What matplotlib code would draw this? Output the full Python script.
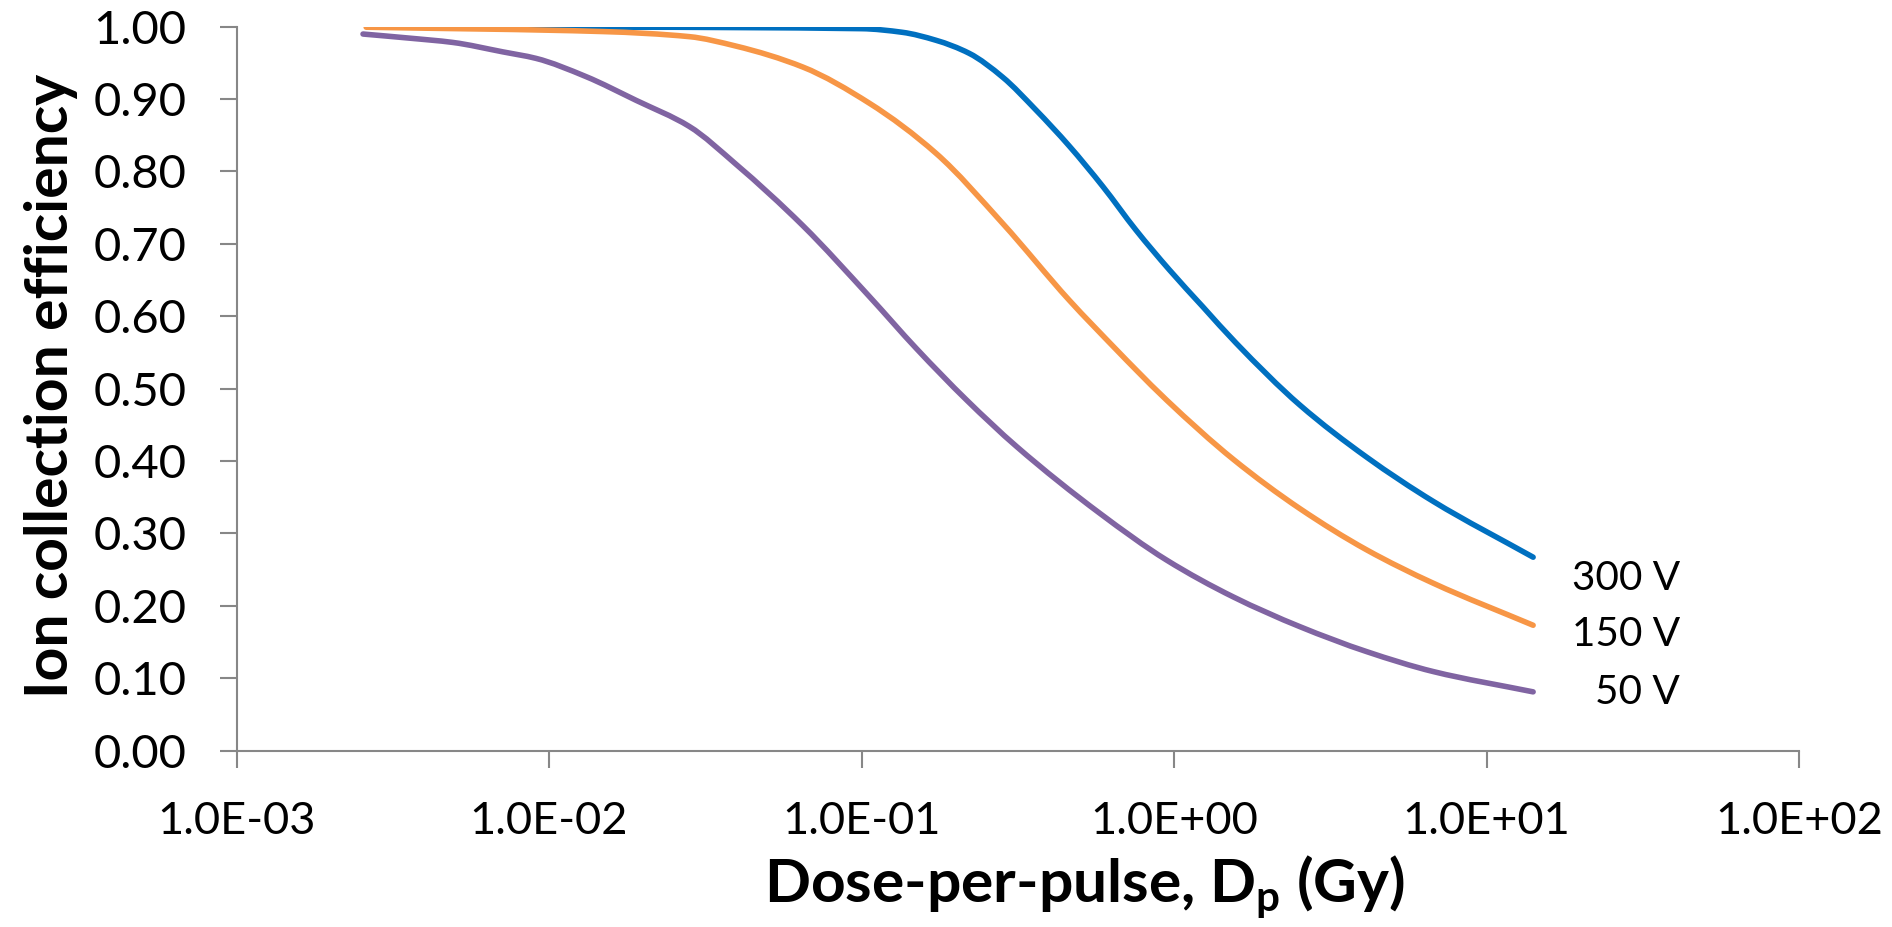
import numpy as np
import matplotlib
matplotlib.use("Agg")
import matplotlib.pyplot as plt
from matplotlib.path import Path
from matplotlib.patches import PathPatch
from matplotlib.ticker import FixedLocator, NullLocator

# ---- data (dose in Gy, efficiency) ----
dose_300 = [0.00266, 0.016, 0.10, 0.135, 0.173, 0.221, 0.283, 0.361, 0.462, 0.592,
            0.755, 0.966, 1.236, 1.578, 2.53, 4.14, 6.76, 14.1]
eff_300 = [0.999, 0.999, 0.997, 0.992, 0.981, 0.963, 0.930, 0.885, 0.835, 0.779,
           0.719, 0.664, 0.613, 0.563, 0.477, 0.405, 0.344, 0.267]

dose_150 = [0.0026, 0.0149, 0.0281, 0.0396, 0.0649, 0.106, 0.173, 0.283, 0.462,
            0.656, 0.755, 0.947, 1.55, 2.53, 4.14, 6.76, 14.1]
eff_150 = [0.999, 0.993, 0.986, 0.973, 0.944, 0.894, 0.825, 0.728, 0.622,
           0.553, 0.526, 0.484, 0.402, 0.334, 0.277, 0.231, 0.173]

dose_50 = [0.00254, 0.00356, 0.00492, 0.00711, 0.00908, 0.0131, 0.0190, 0.0281,
           0.0396, 0.0649, 0.106, 0.150, 0.217, 0.314, 0.579, 0.947, 1.55, 2.53,
           4.14, 6.76, 14.1]
eff_50 = [0.9896, 0.984, 0.978, 0.965, 0.956, 0.931, 0.898, 0.862, 0.810, 0.725,
          0.627, 0.555, 0.484, 0.4196, 0.3276, 0.263, 0.212, 0.171, 0.1365, 0.109,
          0.081]

series_labels = ["300 V", "150 V", "50 V"]
x_ticks = [1e-3, 1e-2, 1e-1, 1e0, 1e1, 1e2]
x_tick_labels = ["1.0E-03", "1.0E-02", "1.0E-01", "1.0E+00", "1.0E+01", "1.0E+02"]
y_ticks = [0.0, 0.1, 0.2, 0.3, 0.4, 0.5, 0.6, 0.7, 0.8, 0.9, 1.0]
y_tick_labels = ["%.2f" % v for v in y_ticks]
x_title = r"Dose-per-pulse, D$_\mathregular{p}$ (Gy)"
y_title = "Ion collection efficiency"

# ---- style ----
FONT = ["Lato", "DejaVu Sans"]
plt.rcParams["font.family"] = FONT
plt.rcParams["mathtext.default"] = "regular"
W, H = 1892, 927
PX = 72 / 100.0  # points per pixel at dpi 100
fig = plt.figure(figsize=(W / 100, H / 100), dpi=100)
ax = fig.add_axes([236.5 / W, 1 - 750.5 / H, (1799 - 236.5) / W, (750.5 - 26.5) / H])


def smooth_path(xs, ys):
    """Excel-like smoothed line: monotone cubic Hermite in (log10 x, y) drawn as Bezier."""
    lx = np.log10(np.asarray(xs, float))
    y = np.asarray(ys, float)
    h = np.diff(lx)
    d = np.diff(y) / h
    m = np.zeros_like(y)
    m[0], m[-1] = d[0], d[-1]
    for i in range(1, len(y) - 1):
        if d[i - 1] * d[i] <= 0:
            m[i] = 0.0
        else:
            w1 = 2 * h[i] + h[i - 1]
            w2 = h[i] + 2 * h[i - 1]
            m[i] = (w1 + w2) / (w1 / d[i - 1] + w2 / d[i])
    verts = [(10 ** lx[0], y[0])]
    codes = [Path.MOVETO]
    for i in range(len(h)):
        c1 = (10 ** (lx[i] + h[i] / 3), y[i] + m[i] * h[i] / 3)
        c2 = (10 ** (lx[i + 1] - h[i] / 3), y[i + 1] - m[i + 1] * h[i] / 3)
        verts += [c1, c2, (10 ** lx[i + 1], y[i + 1])]
        codes += [Path.CURVE4] * 3
    return Path(verts, codes)


colors = ["#0070C0", "#F79646", "#8064A2"]
for xs, ys, c in zip([dose_300, dose_150, dose_50], [eff_300, eff_150, eff_50], colors):
    ax.add_patch(PathPatch(smooth_path(xs, ys), fill=False, edgecolor=c, lw=4.0,
                           capstyle="round", joinstyle="round", transform=ax.transData))

ax.set_xscale("log")
ax.set_xlim(1e-3, 1e2)
ax.set_ylim(0, 1.0)
ax.xaxis.set_major_locator(FixedLocator(x_ticks))
ax.xaxis.set_minor_locator(NullLocator())
ax.set_xticklabels(x_tick_labels)
ax.set_yticks(y_ticks)
ax.set_yticklabels(y_tick_labels)

grey = "#878787"
for s in ["top", "right"]:
    ax.spines[s].set_visible(False)
for s in ["left", "bottom"]:
    ax.spines[s].set_color(grey)
    ax.spines[s].set_linewidth(1.5)

renderer = fig.canvas.get_renderer()


def fit_size(txt, target, base, vertical=False):
    txt.set_fontsize(base)
    bb = txt.get_window_extent(renderer)
    cur = bb.height if vertical else bb.width
    return base * target / cur


ysz = fit_size(ax.get_yticklabels()[-1], 93, 30)
xsz = fit_size(ax.get_xticklabels()[0], 158, 30)
ax.tick_params(axis="y", direction="out", length=17 * PX, width=1.5, color=grey,
               labelsize=ysz, pad=33 * PX)
ax.tick_params(axis="x", direction="out", length=17 * PX, width=1.5, color=grey,
               labelsize=xsz, pad=34 * PX)

# end-of-line labels
label_y = [578, 635, 693]
texts = [fig.text(1680 / W, 1 - yp / H, t, ha="right", va="center") for t, yp in
         zip(series_labels, label_y)]
lsz = fit_size(texts[0], 108, 30)
for t in texts:
    t.set_fontsize(lsz)

xt = fig.text(1084 / W, 1 - 903 / H, x_title, ha="center", va="baseline",
              fontweight="bold")
xt.set_fontsize(fit_size(xt, 640, 40))
yt = fig.text(68 / W, 1 - 386 / H, y_title, ha="center", va="baseline",
              rotation=90, rotation_mode="anchor", fontweight="bold")
yt.set_fontsize(fit_size(yt, 624, 40, vertical=True))

fig.savefig("out.png", dpi=100)
